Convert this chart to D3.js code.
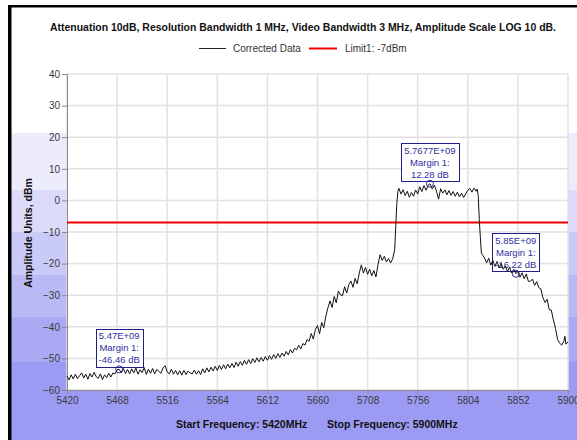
<!DOCTYPE html>
<html>
<head>
<meta charset="utf-8">
<script src="https://cdn.jsdelivr.net/npm/d3@7"></script>
<style>
  html, body { margin: 0; padding: 0; background: #fff; }
  svg { display: block; font-family: "Liberation Sans", Arial, sans-serif; }
</style>
</head>
<body>
<svg id="chart" width="577" height="440"></svg>
<script>
// ---- spectrum trace (MHz, dBm) ----
const traceFreqMHz = [
  5420,5422,5424,5426,5428,5430,5432,5434,5436,5438,5440,5442,5444,5446,5448,5450,5452,5454,5456,5458,
  5460,5462,5464,5466,5468,5470,5472,5474,5476,5478,5480,5482,5484,5486,5488,5490,5492,5494,5496,5498,
  5500,5502,5504,5506,5508,5510,5512,5514,5516,5518,5520,5522,5524,5526,5528,5530,5532,5534,5536,5538,
  5540,5542,5544,5546,5548,5550,5552,5554,5556,5558,5560,5562,5564,5566,5568,5570,5572,5574,5576,5578,
  5580,5582,5584,5586,5588,5590,5592,5594,5596,5598,5600,5602,5604,5606,5608,5610,5612,5614,5616,5618,
  5620,5622,5624,5626,5628,5630,5632,5634,5636,5638,5640,5642,5644,5646,5648,5650,5652,5654,5656,5658,
  5660,5662,5664,5666,5668,5670,5672,5674,5676,5678,5680,5682,5684,5686,5688,5690,5692,5694,5696,5698,
  5700,5702,5704,5706,5708,5710,5712,5714,5716,5718,5720,5722,5724,5726,5728,5730,5732,5734,5735,5736,
  5737,5738,5740,5742,5744,5746,5748,5750,5752,5754,5756,5758,5760,5762,5764,5766,5767.7,5770,5772,5774,
  5776,5778,5780,5782,5784,5786,5788,5790,5792,5794,5796,5798,5800,5802,5804,5806,5808,5810,5812,5813,
  5814,5815,5816,5817,5818,5820,5822,5824,5826,5828,5830,5832,5834,5836,5838,5840,5842,5844,5846,5848,
  5850,5852,5854,5856,5858,5860,5862,5864,5866,5868,5870,5872,5874,5876,5878,5880,5882,5884,5886,5888,
  5890,5892,5894,5896,5897,5898,5900
];
const traceLevelDbm = [
  -55.6,-56.8,-55.2,-56.5,-55.0,-56.4,-55.5,-54.6,-56.2,-55.0,-56.6,-54.8,-55.9,-54.4,-55.8,-56.3,-54.9,-56.7,-55.2,-56.1,
  -54.7,-55.9,-54.6,-54.9,-53.6,-53.46,-54.6,-53.2,-54.8,-53.5,-54.9,-53.3,-54.6,-53.0,-55.0,-53.6,-54.5,-52.9,-55.1,-53.4,
  -54.7,-53.2,-54.9,-53.5,-54.1,-54.7,-53.0,-52.3,-54.3,-54.9,-53.4,-55.0,-53.8,-55.2,-53.9,-55.3,-53.8,-55.1,-54.0,-54.6,
  -54.9,-53.7,-55.0,-53.9,-55.1,-53.3,-54.6,-53.0,-54.3,-52.8,-54.0,-52.5,-53.8,-52.2,-53.5,-52.0,-53.3,-51.8,-53.0,-51.6,
  -52.9,-51.2,-52.5,-51.0,-52.2,-50.6,-51.9,-50.4,-51.6,-50.1,-51.3,-49.8,-51.1,-49.7,-50.9,-49.4,-50.6,-49.1,-50.3,-48.8,
  -50.0,-48.5,-49.7,-48.3,-49.3,-47.8,-48.9,-47.2,-48.3,-46.8,-47.3,-45.9,-47.0,-45.3,-45.8,-44.0,-44.6,-42.1,-43.9,-40.8,
  -39.6,-42.2,-38.6,-40.3,-36.6,-34.0,-31.8,-33.9,-30.4,-32.4,-28.7,-29.9,-30.1,-27.3,-29.3,-26.6,-25.5,-27.5,-24.7,-26.4,
  -23.0,-20.4,-23.0,-21.2,-23.4,-21.8,-23.9,-22.2,-24.2,-20.3,-17.2,-19.0,-17.7,-19.5,-18.4,-19.8,-18.5,-15.5,-8.0,-1.0,
  2.8,3.8,2.0,3.4,1.5,2.9,1.0,2.5,1.3,3.3,2.0,4.3,2.8,4.7,3.2,4.8,5.28,3.6,4.8,2.9,
  0.4,3.7,2.3,3.3,1.8,3.1,1.6,2.8,1.3,2.6,1.1,2.3,0.9,2.1,3.2,3.8,2.6,3.9,2.9,3.6,
  1.5,-6.0,-11.5,-16.6,-17.2,-18.2,-19.8,-18.3,-20.5,-19.0,-20.9,-19.3,-21.4,-19.9,-21.8,-20.7,-22.5,-21.2,-23.0,-21.8,
  -23.22,-22.5,-24.3,-22.9,-24.8,-23.3,-25.6,-25.6,-24.9,-26.9,-25.7,-27.6,-28.0,-30.8,-32.3,-31.3,-34.6,-34.7,-37.8,-40.5,
  -44.0,-45.2,-45.8,-44.6,-43.0,-45.5,-44.8
];

// ---- axes ----
const xTicks = [5420, 5468, 5516, 5564, 5612, 5660, 5708, 5756, 5804, 5852, 5900];
const yTicks = [-60, -50, -40, -30, -20, -10, 0, 10, 20, 30, 40];

// ---- limit line and markers ----
const limitDbm = -7;
const markerHz = [5.47e9, 5.7677e9, 5.85e9];
const markerMarginDb = [-46.46, 12.28, -16.22];

// ---- texts ----
const seriesNames = ["Corrected Data", "Limit1: -7dBm"];
const titleText = "Attenuation 10dB, Resolution Bandwidth 1 MHz, Video Bandwidth 3 MHz, Amplitude Scale LOG 10 dB.";
const yAxisTitle = "Amplitude Units, dBm";
const startMHz = 5420, stopMHz = 5900;

const svg = d3.select("#chart");
const W = 577, H = 440;
const plot = { left: 67, right: 568, top: 74, bottom: 390 };

const x = d3.scaleLinear().domain([startMHz, stopMHz]).range([plot.left, plot.right]);
const y = d3.scaleLinear().domain([-60, 40]).range([plot.bottom, plot.top]);

// window background: stepped lavender bands
const bands = [
  [133, 190, "#ececfc"],
  [190, 232, "#dcdcfa"],
  [232, 275, "#cacaf8"],
  [275, 317, "#b9b9f6"],
  [317, 362, "#a9a9f4"],
  [362, H,   "#9b9bf3"]
];
svg.append("g").selectAll("rect").data(bands).join("rect")
  .attr("x", 11).attr("y", d => d[0]).attr("width", W - 11).attr("height", d => d[1] - d[0])
  .attr("fill", d => d[2]);

// window frame (left and top edges)
svg.append("rect").attr("x", 8).attr("y", 5).attr("width", 3.5).attr("height", H - 5).attr("fill", "#000");
svg.append("rect").attr("x", 8).attr("y", 5).attr("width", W - 8).attr("height", 2.5).attr("fill", "#000");

// plot area
svg.append("rect").attr("x", plot.left).attr("y", plot.top)
  .attr("width", plot.right - plot.left).attr("height", plot.bottom - plot.top).attr("fill", "#fff");

// grid
const grid = svg.append("g").attr("stroke", "#e2e2e2").attr("stroke-width", 1.5);
grid.selectAll(".gx").data(xTicks).join("line")
  .attr("x1", d => x(d)).attr("x2", d => x(d)).attr("y1", plot.top).attr("y2", plot.bottom);
grid.selectAll(".gy").data(yTicks).join("line")
  .attr("x1", plot.left).attr("x2", plot.right).attr("y1", d => y(d)).attr("y2", d => y(d));

// axes
const xAxis = svg.append("g").attr("transform", `translate(0,${plot.bottom})`)
  .call(d3.axisBottom(x).tickValues(xTicks).tickSize(4).tickPadding(3).tickFormat(d3.format("d")));
const yAxis = svg.append("g").attr("transform", `translate(${plot.left},0)`)
  .call(d3.axisLeft(y).tickValues(yTicks).tickSize(5).tickPadding(2).tickFormat(d3.format("d")));
[xAxis, yAxis].forEach(a => {
  a.select(".domain").attr("stroke", "#8a8a8a");
  a.selectAll(".tick line").attr("stroke", "#8a8a8a");
  a.selectAll(".tick text").attr("fill", "#3a3a3a").attr("font-size", 10)
    .attr("font-family", "'Liberation Sans', Arial, sans-serif");
});

// limit line
svg.append("line")
  .attr("x1", plot.left).attr("x2", plot.right)
  .attr("y1", y(limitDbm)).attr("y2", y(limitDbm))
  .attr("stroke", "#ee0000").attr("stroke-width", 2);

// marker annotation boxes
const fmtHz = v => {
  const [m, e] = v.toExponential().split("e");
  const n = parseInt(e, 10);
  return m + "E" + (n < 0 ? "-" : "+") + String(Math.abs(n)).padStart(2, "0");
};
const markers = markerHz.map((hz, i) => ({
  f: hz / 1e6,
  level: limitDbm + markerMarginDb[i],
  lines: [fmtHz(hz), "Margin 1:", markerMarginDb[i].toFixed(2) + " dB"]
}));

const notes = svg.append("g");
markers.forEach(m => {
  const cx = x(m.f), cy = y(m.level);
  const g = notes.append("g");
  const box = g.append("rect").attr("fill", "#fff").attr("stroke", "#1f1f8c").attr("stroke-width", 1);
  const texts = m.lines.map((t, k) => g.append("text")
    .attr("x", cx).attr("text-anchor", "middle")
    .attr("font-size", 9.5).attr("fill", "#2e2e9e").text(t));
  const wMax = d3.max(texts, t => t.node().getComputedTextLength());
  const bw = Math.round(wMax + 6), bh = 38;
  const bottom = cy - 2.5, topY = bottom - bh;
  box.attr("x", Math.round(cx - bw / 2) + 0.5).attr("y", Math.round(topY) + 0.5).attr("width", bw).attr("height", bh);
  texts.forEach((t, k) => t.attr("y", topY + 10.5 + k * 12));
});

// trace
const pts = traceFreqMHz.map((f, i) => [f, traceLevelDbm[i]]);
svg.append("path").datum(pts)
  .attr("fill", "none").attr("stroke", "#111").attr("stroke-width", 1)
  .attr("d", d3.line().x(d => x(d[0])).y(d => y(d[1])));

// marker rings
svg.append("g").selectAll("circle").data(markers).join("circle")
  .attr("cx", d => x(d.f)).attr("cy", d => y(d.level)).attr("r", 3.5)
  .attr("fill", "none").attr("stroke", "#2a2aa0").attr("stroke-width", 1);

// title
svg.append("text").attr("x", 303).attr("y", 31).attr("text-anchor", "middle")
  .attr("font-size", 10.5).attr("font-weight", "bold").attr("fill", "#111")
  .attr("textLength", 506).attr("lengthAdjust", "spacingAndGlyphs")
  .text(titleText);

// legend
const lg = svg.append("g");
lg.append("line").attr("x1", 199).attr("x2", 226).attr("y1", 48.5).attr("y2", 48.5)
  .attr("stroke", "#222").attr("stroke-width", 1);
lg.append("text").attr("x", 233).attr("y", 52).attr("font-size", 10).attr("fill", "#333").text(seriesNames[0]);
lg.append("line").attr("x1", 309).attr("x2", 337).attr("y1", 48.5).attr("y2", 48.5)
  .attr("stroke", "#ee0000").attr("stroke-width", 2);
lg.append("text").attr("x", 345).attr("y", 52).attr("font-size", 10).attr("fill", "#333").text(seriesNames[1]);

// y axis title
svg.append("text")
  .attr("transform", `translate(32,${233}) rotate(-90)`)
  .attr("text-anchor", "middle").attr("font-size", 10.5).attr("font-weight", "bold").attr("fill", "#111")
  .text(yAxisTitle);

// start / stop frequency footer
const footer = svg.append("text").attr("y", 428).attr("font-size", 10.5).attr("font-weight", "bold").attr("fill", "#111");
footer.append("tspan").attr("x", 176).text(`Start Frequency: ${startMHz}MHz`);
footer.append("tspan").attr("x", 327).text(`Stop Frequency: ${stopMHz}MHz`);
</script>
</body>
</html>
